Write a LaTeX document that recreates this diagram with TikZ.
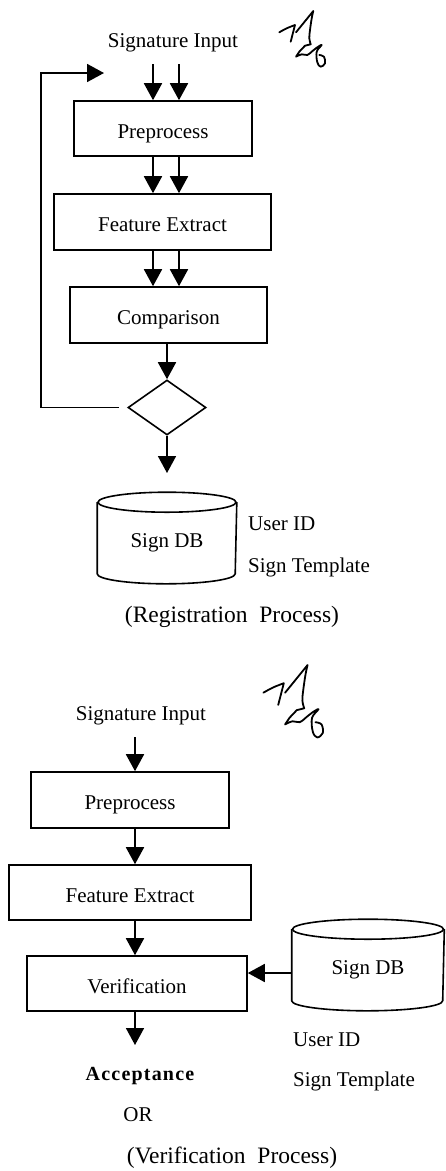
\documentclass[tikz,border=0pt]{standalone}
\usepackage{fontspec}
\setmainfont{Liberation Serif}
\usetikzlibrary{arrows.meta,shapes.geometric,calc}
\newcommand\mysig{%
  \draw[sig] plot[smooth,tension=0.6] coordinates {(0.3,21.3) (7.7,17.3) (16,14)} -- (11.7,30.7);
  \draw[sig] (17,21.3) -- (34.3,0) -- plot[smooth,tension=0.6] coordinates {(34.3,0) (32.7,7.3) (31,19) (30.3,27.3) (31.7,33.3)} -- (26,34.7) -- (20.3,40.7) -- (17,45.7)
    -- plot[smooth,tension=0.6] coordinates {(17,45.7) (22.7,43.3) (28.3,44) (32.7,40.7) (37.7,36.7) (42.7,34) (37.7,40.7) (38.3,51.3) (41.7,55.7) (46,52.3) (45,45.7) (40.3,44)};%
}
\begin{document}
\begin{tikzpicture}[x=1pt,y=-1pt,
  box/.style={draw,line width=1.6pt,inner sep=0pt,text height=19pt,text depth=0pt,font=\fontsize{21}{25}\selectfont},
  lbl/.style={inner sep=0pt,anchor=base,font=\fontsize{21}{25}\selectfont},
  captxt/.style={inner sep=0pt,anchor=base,font=\fontsize{23.5}{28}\selectfont},
  arr/.style={-{Triangle[width=18pt,length=17pt]},line width=1.8pt},
  cyl/.style={line width=1.6pt},
  sig/.style={line width=1.8pt,line cap=round,line join=round}]
\useasboundingbox (0,0) rectangle (446,1171);

% ---------- Registration ----------
\node[lbl] (sig1) at (173,47) {Signature Input};
\coordinate (i1) at (153,64);
\coordinate (i2) at (179,64);
\node[box,minimum width=178pt,minimum height=55pt] (pre1) at (163,128.5) {Preprocess};
\node[box,minimum width=217pt,minimum height=56pt] (fe1) at (162.5,222) {Feature Extract};
\node[box,minimum width=197pt,minimum height=56pt] (cmp) at (168.5,315) {Comparison};
\node[draw,diamond,line width=1.6pt,inner sep=0pt,minimum width=78pt,minimum height=55pt] (dec) at (167,407.5) {};
\node[box,draw=none,minimum width=138pt,minimum height=90pt] (db1) at (167,538) {Sign DB};
\coordinate (dbin1) at (167,473);
\coordinate (fbx) at (41,0);
\coordinate (fbtip) at (104,73);

\draw[arr] (i1) -- (pre1.north -| i1);
\draw[arr] (i2) -- (pre1.north -| i2);
\draw[arr] (pre1.south -| i1) -- (fe1.north -| i1);
\draw[arr] (pre1.south -| i2) -- (fe1.north -| i2);
\draw[arr] (fe1.south -| i1) -- (cmp.north -| i1);
\draw[arr] (fe1.south -| i2) -- (cmp.north -| i2);
\draw[arr] (cmp.south -| dec) -- (dec.north);
\draw[arr] (dec.south) -- (dbin1);
\draw[arr] ([xshift=-8pt]dec.west) -- (fbx |- dec.west) -- (fbx |- fbtip) -- (fbtip);

\draw[cyl] ($(db1.north west)+(0,10)$) -- ($(db1.south west)+(0,-10)$)
  arc[start angle=180,end angle=360,x radius=69pt,y radius=10pt] -- ($(db1.north east)+(0,10)$);
\draw[cyl] ($(db1.north)+(0,10)$) ellipse [x radius=69pt,y radius=10pt];

\node[lbl,anchor=base west] (uid1) at (248,530) {User ID};
\node[lbl,anchor=base west] (st1) at (248,572) {Sign Template};
\node[captxt] (reg) at (232,622) {(Registration\ \ Process)};

\begin{scope}[shift={(279,11)}]\mysig\end{scope}

% ---------- Verification ----------
\node[lbl] (sig2) at (141,720) {Signature Input};
\coordinate (j) at (135,737);
\node[box,minimum width=198pt,minimum height=56pt] (pre2) at (130,800) {Preprocess};
\node[box,minimum width=242pt,minimum height=55pt] (fe2) at (130,892.5) {Feature Extract};
\node[box,minimum width=220pt,minimum height=55pt] (ver) at (137,983.5) {Verification};
\node[box,draw=none,minimum width=151pt,minimum height=90pt] (db2) at (368,965) {Sign DB};
\coordinate (dbarr) at (0,973);
\coordinate (out) at (135,1045);

\draw[arr] (j) -- (pre2.north -| j);
\draw[arr] (pre2.south -| j) -- (fe2.north -| j);
\draw[arr] (fe2.south -| j) -- (ver.north -| j);
\draw[arr] (ver.south -| j) -- (out);
\draw[arr] (db2.west |- dbarr) -- (ver.east |- dbarr);

\draw[cyl] ($(db2.north west)+(0,10)$) -- ($(db2.south west)+(0,-10)$)
  arc[start angle=180,end angle=360,x radius=75.5pt,y radius=10pt] -- ($(db2.north east)+(0,10)$);
\draw[cyl] ($(db2.north)+(0,10)$) ellipse [x radius=75.5pt,y radius=10pt];

\node[lbl,anchor=base west] (uid2) at (293,1046.7) {User ID};
\node[lbl,anchor=base west] (st2) at (293,1086.7) {Sign Template};
\node[lbl,font=\fontsize{20}{24}\selectfont\bfseries\addfontfeatures{LetterSpace=6}] (acc) at (140,1080.7) {Acceptance};
\node[lbl] (or) at (138,1121.7) {OR};
\node[captxt] (verp) at (232,1163) {(Verification\ \ Process)};

\begin{scope}[shift={(263,665)},scale=1.3]\mysig\end{scope}
\end{tikzpicture}
\end{document}
